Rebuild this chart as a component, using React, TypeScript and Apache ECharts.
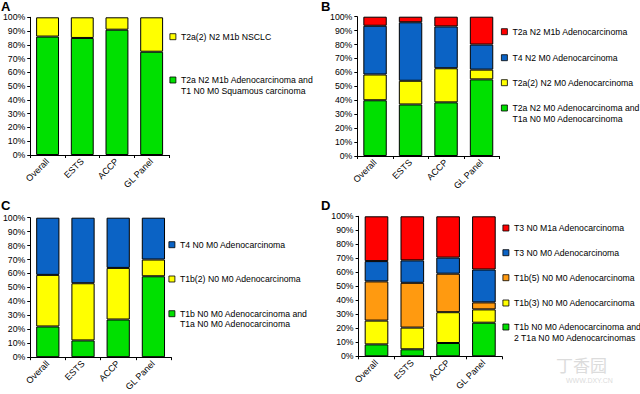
import React, { useEffect, useRef } from "react";
import * as echarts from "echarts";

const categories = ["Overall", "ESTS", "ACCP", "GL Panel"];
const yTicks = [0, 10, 20, 30, 40, 50, 60, 70, 80, 90, 100];

// Panel A
const aGreen = [86, 85, 91, 75];
const aYellow = [14, 15, 9, 25];
// Panel B
const bGreen = [40, 37, 38.5, 55];
const bYellow = [18.5, 17, 24.5, 7];
const bBlue = [35, 42, 30, 18];
const bRed = [6.5, 4, 7, 20];
// Panel C
const cGreen = [22, 12, 27, 58];
const cYellow = [37, 41, 37, 12];
const cBlue = [41, 47, 36, 30];
// Panel D
const dGreen = [8.5, 5, 9.5, 24];
const dYellow = [17, 15.5, 22, 9.5];
const dOrange = [28, 32, 27.5, 5];
const dBlue = [14.5, 16, 11.5, 23.5];
const dRed = [32, 31.5, 29.5, 38];

const GREEN = "#00e000";
const YELLOW = "#ffff00";
const BLUE = "#0b63c5";
const RED = "#ff0000";
const ORANGE = "#ff9a10";

const FONT = "Liberation Sans, Arial, sans-serif";
const TXT = "#000";
const FS = 8.7;
const LH = 10.7;

type S = { name: string; data: number[]; color: string; twoLine?: boolean };

const panels: { letter: string; series: S[] }[] = [
  {
    letter: "A",
    series: [
      { name: "T2a N2 M1b Adenocarcinoma and\nT1 N0 M0 Squamous carcinoma", data: aGreen, color: GREEN, twoLine: true },
      { name: "T2a(2) N2 M1b NSCLC", data: aYellow, color: YELLOW },
    ],
  },
  {
    letter: "B",
    series: [
      { name: "T2a N2 M0 Adenocarcinoma and\nT1a N0 M0 Adenocarcinoma", data: bGreen, color: GREEN, twoLine: true },
      { name: "T2a(2) N2 M0 Adenocarcinoma", data: bYellow, color: YELLOW },
      { name: "T4 N2 M0 Adenocarcinoma", data: bBlue, color: BLUE },
      { name: "T2a N2 M1b Adenocarcinoma", data: bRed, color: RED },
    ],
  },
  {
    letter: "C",
    series: [
      { name: "T1b N0 M0 Adenocarcinoma and\nT1a N0 M0 Adenocarcinoma", data: cGreen, color: GREEN, twoLine: true },
      { name: "T1b(2) N0 M0 Adenocarcinoma", data: cYellow, color: YELLOW },
      { name: "T4 N0 M0 Adenocarcinoma", data: cBlue, color: BLUE },
    ],
  },
  {
    letter: "D",
    series: [
      { name: "T1b N0 M0 Adenocarcinoma and\n2 T1a N0 M0 Adenocarcinomas", data: dGreen, color: GREEN, twoLine: true },
      { name: "T1b(3) N0 M0 Adenocarcinoma", data: dYellow, color: YELLOW },
      { name: "T1b(5) N0 M0 Adenocarcinoma", data: dOrange, color: ORANGE },
      { name: "T3 N0 M0 Adenocarcinoma", data: dBlue, color: BLUE },
      { name: "T3 N0 M1a Adenocarcinoma", data: dRed, color: RED },
    ],
  },
];

// layout (pixels)
const grids = [
  { left: 27.3, top: 17.3, width: 141.7, height: 137.7 },
  { left: 357.3, top: 16.7, width: 142, height: 139.3 },
  { left: 28.7, top: 217.7, width: 142.3, height: 140 },
  { left: 358.6, top: 216.3, width: 143.2, height: 140 },
];
const titlePos = [
  { left: 1, top: 0 },
  { left: 321, top: 0 },
  { left: 1, top: 199 },
  { left: 321, top: 199 },
];
// legend: left and first-line centre y of each item, top-to-bottom (series reversed)
const legendLeft = [169.5, 501, 168.5, 502.5];
const legendCenters = [
  [36.7, 80],
  [31.7, 57.7, 82.7, 108],
  [244.7, 279, 313.7],
  [228, 252.7, 277.7, 303, 327],
];

export default function App() {
  const ref = useRef<HTMLDivElement>(null);
  useEffect(() => {
    if (!ref.current) return;
    const chart = echarts.init(ref.current, undefined, { renderer: "svg" });

    const xAxis: any[] = [];
    const yAxis: any[] = [];
    const series: any[] = [];
    const legend: any[] = [];
    const title: any[] = [];

    panels.forEach((p, i) => {
      title.push({
        text: p.letter,
        left: titlePos[i].left,
        top: titlePos[i].top,
        padding: 0,
        textStyle: { fontFamily: FONT, fontSize: 13, lineHeight: 13, fontWeight: "bold", color: "#000" },
      });
      xAxis.push({
        type: "category",
        gridIndex: i,
        data: categories,
        axisLine: { lineStyle: { color: "#000", width: 1 } },
        axisTick: { show: true, length: 3, alignWithLabel: false, lineStyle: { color: "#000" } },
        axisLabel: {
          rotate: 45,
          margin: 5,
          fontFamily: FONT,
          fontSize: 9,
          color: TXT,
          interval: 0,
        },
        splitLine: { show: false },
      });
      yAxis.push({
        type: "value",
        gridIndex: i,
        min: 0,
        max: 100,
        interval: 10,
        axisLine: { show: true, lineStyle: { color: "#000", width: 1 } },
        axisTick: { show: true, length: 3, lineStyle: { color: "#000" } },
        axisLabel: {
          formatter: "{value}%",
          margin: 5,
          fontFamily: FONT,
          fontSize: FS,
          color: TXT,
          customValues: yTicks,
        },
        splitLine: { show: false },
      });
      p.series.forEach((s) => {
        series.push({
          type: "bar",
          name: s.name,
          xAxisIndex: i,
          yAxisIndex: i,
          stack: "p" + i,
          barWidth: "66%",
          data: s.data,
          itemStyle: { color: s.color, borderColor: "#000", borderWidth: 1 },
          emphasis: { disabled: true },
        });
      });
      const rev = [...p.series].reverse();
      rev.forEach((s, k) => {
        const cy = legendCenters[i][k];
        legend.push({
          data: [s.name],
          orient: "vertical",
          left: legendLeft[i],
          top: s.twoLine ? cy - 1.5 * LH : cy - LH / 2,
          padding: 0,
          itemGap: 0,
          itemWidth: 6,
          itemHeight: 6,
          icon: "rect",
          selectedMode: false,
          formatter: s.twoLine ? (n: string) => "\n" + n : "{name}",
          itemStyle: { color: s.color, borderColor: "#000", borderWidth: 0.8 },
          textStyle: { fontFamily: FONT, fontSize: FS, lineHeight: LH, color: TXT },
        });
      });
    });

    chart.setOption({
      animation: false,
      backgroundColor: "#ffffff",
      title,
      grid: grids.map((g) => ({ ...g, containLabel: false })),
      xAxis,
      yAxis,
      legend,
      series,
      graphic: [
        {
          type: "text",
          left: 556,
          top: 356,
          style: { text: "丁香园", fontFamily: "Noto Sans CJK SC", fontSize: 17, fill: "#dcdcdc" },
        },
        {
          type: "text",
          left: 566,
          top: 377,
          style: { text: "WWW.DXY.CN", fontFamily: FONT, fontSize: 7, fill: "#dcdcdc" },
        },
      ],
    });
    return () => chart.dispose();
  }, []);
  return (
    <div
      ref={ref}
      style={{ position: "absolute", left: 0, top: 0, width: 640, height: 394, background: "#fff" }}
    />
  );
}
